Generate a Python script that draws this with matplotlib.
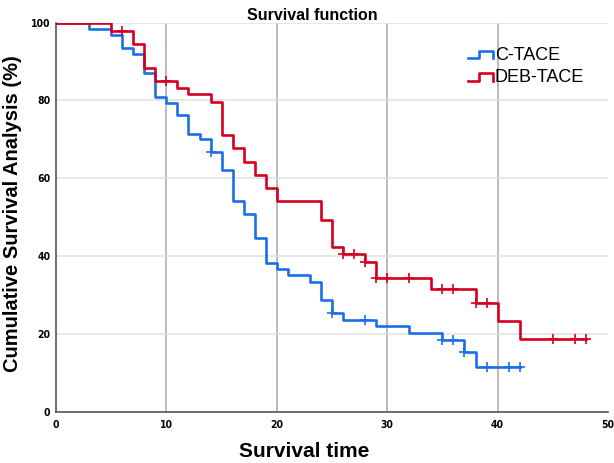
import matplotlib
matplotlib.use('Agg')
import matplotlib.pyplot as plt
import numpy as np
from matplotlib.lines import Line2D
from matplotlib.legend_handler import HandlerBase

# Kaplan-Meier steps (time, survival % after the drop)
ctace_t = [0, 3, 5, 6, 7, 8, 9, 10, 11, 12, 13, 14, 15, 16, 17, 18, 19, 20, 21, 23, 24, 25, 26, 29, 32, 35, 37, 38]
ctace_s = [100, 98.4, 96.7, 93.4, 91.8, 87.1, 81.0, 79.4, 76.2, 71.5, 70.0, 66.8, 62.1, 54.2, 50.8, 44.6, 38.3,
           36.7, 35.2, 33.5, 28.8, 25.5, 23.7, 22.0, 20.2, 18.4, 15.4, 11.6]
ctace_end = 42
ctace_cens = [14, 25, 28, 35, 36, 37, 39, 41, 42]

deb_t = [0, 5, 7, 8, 9, 11, 12, 14, 15, 16, 17, 18, 19, 20, 24, 25, 26, 28, 29, 34, 38, 40, 42]
deb_s = [100, 97.7, 94.5, 88.3, 85.0, 83.3, 81.6, 79.6, 71.0, 67.7, 64.3, 60.9, 57.5, 54.3, 49.2, 42.3, 40.7,
         38.5, 34.3, 31.7, 28.1, 23.5, 18.8]
deb_end = 48
deb_cens = [6, 10, 26, 27, 28, 29, 30, 32, 35, 36, 38, 39, 45, 47, 48]

labels = ['C-TACE', 'DEB-TACE']
colors = ['#1b6fe6', '#d4001e']

plt.rcParams['font.family'] = ['Liberation Sans', 'DejaVu Sans']


def surv_at(times, surv, t):
    i = np.searchsorted(times, t, side='right') - 1
    return surv[i]


class StepHandler(HandlerBase):
    def create_artists(self, legend, orig_handle, xdescent, ydescent, width, height, fontsize, trans):
        x0, x1 = -xdescent, -xdescent + width
        y0, y1 = -ydescent + 0.15 * height, -ydescent + 0.75 * height
        xs = [x0, x0 + 0.45 * width, x0 + 0.45 * width, x1, x1]
        ys = [y0, y0, y1, y1, y0]
        ln = Line2D(xs, ys, color=orig_handle.get_color(), lw=orig_handle.get_linewidth(), transform=trans)
        return [ln]


fig = plt.figure(figsize=(6.14, 4.63), dpi=100)
ax = fig.add_axes([0.0912, 0.110, 0.899, 0.8414])

handles = []
for t, s, end, cens, lab, col in [(ctace_t, ctace_s, ctace_end, ctace_cens, labels[0], colors[0]),
                                  (deb_t, deb_s, deb_end, deb_cens, labels[1], colors[1])]:
    xs = list(t) + [end]
    ys = list(s) + [s[-1]]
    h, = ax.step(xs, ys, where='post', color=col, lw=1.9, label=lab, zorder=3)
    handles.append(h)
    cy = [surv_at(t, s, c) for c in cens]
    ax.plot(cens, cy, ls='none', marker='+', ms=7, mew=1.2, color=col, zorder=4)

ax.set_xlim(0, 50)
ax.set_ylim(0, 100)
ax.set_xticks([0, 10, 20, 30, 40, 50])
ax.set_yticks([0, 20, 40, 60, 80, 100])
ax.tick_params(length=0, labelsize=7.5)
ax.tick_params(axis='x', pad=6)
ax.tick_params(axis='y', pad=4)
for lbl in ax.get_xticklabels() + ax.get_yticklabels():
    lbl.set_family('DejaVu Sans')
    lbl.set_stretch('condensed')
    lbl.set_weight('bold')

for x in [10, 20, 30, 40]:
    ax.axvline(x, color='#a8a8a8', lw=1.1, zorder=1)
for y in [20, 40, 60, 80, 100]:
    ax.axhline(y, color='#e0e0e0', lw=1.1, zorder=1)

for side in ['top', 'right']:
    ax.spines[side].set_visible(False)
for side in ['left', 'bottom']:
    ax.spines[side].set_color('#555555')
    ax.spines[side].set_linewidth(1.2)

ax.set_title('Survival function', fontsize=11.5, fontweight='bold', pad=1, x=0.465)
ax.set_xlabel('Survival time', fontsize=15, fontweight='bold')
ax.xaxis.set_label_coords(0.449, -0.078)
ax.set_ylabel('Cumulative Survival Analysis (%)', fontsize=14.5, fontweight='bold')
ax.yaxis.set_label_coords(-0.062, 0.51)

ax.legend(handles=handles, labels=labels, handler_map={h: StepHandler() for h in handles},
          loc='upper left', bbox_to_anchor=(0.746, 0.937), frameon=False, fontsize=13,
          handlelength=1.4, handletextpad=0.1, labelspacing=0.3, borderaxespad=0, borderpad=0)

fig.savefig('out.png', dpi=100)
